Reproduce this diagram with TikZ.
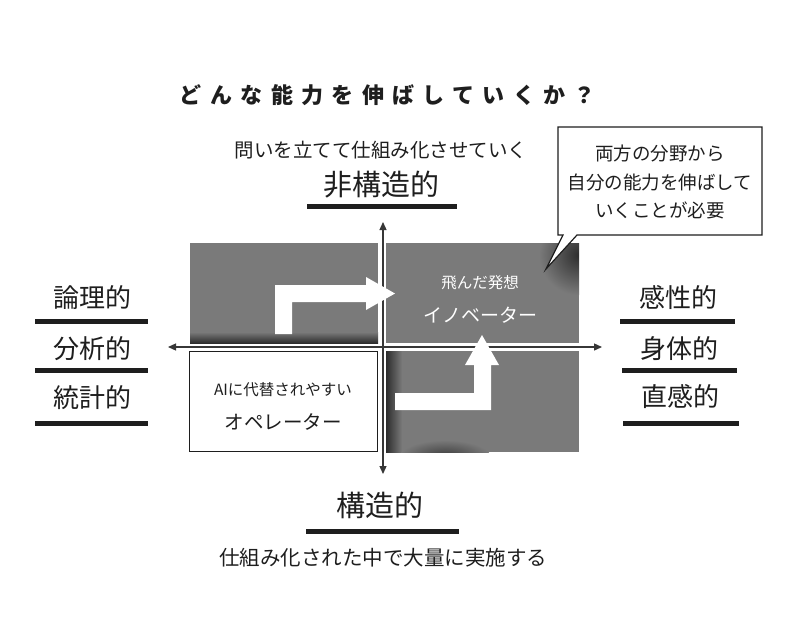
\documentclass[tikz,border=0pt]{standalone}
\usepackage{fontspec}
\setmainfont{Noto Sans CJK JP}
\usetikzlibrary{arrows.meta}
\definecolor{quad}{RGB}{122,122,122}
\definecolor{quaddark}{RGB}{45,45,45}
\definecolor{ink}{RGB}{30,30,30}
\definecolor{axiscol}{RGB}{55,55,55}
\tikzset{
  fs/.style={font=\fontsize{#1}{#1}\selectfont},
  lbl/.style={inner sep=0pt, text=ink},
  ubar/.style={line width=5pt, ink},
  axisline/.style={line width=1.3pt, axiscol, {Triangle[length=8pt,width=7pt]}-{Triangle[length=8pt,width=7pt]}},
  whitearrow/.style={fill=white},
}
\begin{document}
\begin{tikzpicture}[x=1pt,y=-1pt]
\useasboundingbox (0,0) rectangle (800,619);
\fill[white] (0,0) rectangle (800,619);

% title
\node[lbl, fs=22, anchor=center] (title) at (388,95) {\bfseries\addfontfeature{LetterSpace=38}どんな能力を伸ばしていくか？};

% top labels
\node[lbl, fs=19.5] (topnote) at (381,150) {問いを立てて仕組み化させていく};
\node[lbl, fs=29] (topaxis) at (381,185) {非構造的};
\draw[ubar] (307,206) -- (457,206);

% bottom labels
\node[lbl, fs=29] (botaxis) at (380,505) {構造的};
\draw[ubar] (306,531) -- (459,531);
\node[lbl, fs=20.5] (botnote) at (383,558) {仕組み化された中で大量に実施する};

% left labels
\node[lbl, fs=26] (l1) at (92,298) {論理的};
\draw[ubar] (35,321) -- (148,321);
\node[lbl, fs=26] (l2) at (92,349) {分析的};
\draw[ubar] (35,370) -- (148,370);
\node[lbl, fs=26] (l3) at (92,398) {統計的};
\draw[ubar] (35,423) -- (148,423);

% right labels
\node[lbl, fs=26] (r1) at (678,298) {感性的};
\draw[ubar] (620,321) -- (735,321);
\node[lbl, fs=26] (r2) at (679,349) {身体的};
\draw[ubar] (622,370) -- (737,370);
\node[lbl, fs=26] (r3) at (680,397) {直感的};
\draw[ubar] (623,423) -- (739,423);

% quadrants
\fill[quad] (190,243) rectangle (378,343);
\shade[top color=quad, bottom color=quaddark] (190,332) rectangle (378,343);
\fill[quad] (386,243) rectangle (579,343);
\begin{scope}
  \clip (386,243) rectangle (579,343);
  \shade[inner color=quaddark, outer color=quad] (579,255) circle (40);
\end{scope}
\fill[quad] (386,351) rectangle (579,452);
\shade[left color=quaddark, right color=quad] (386,351) rectangle (402,452);
\begin{scope}
  \clip (386,351) rectangle (579,452);
  \shade[inner color=quaddark!80!quad, outer color=quad] (445,456) ellipse (45 and 16);
\end{scope}
\draw[line width=1.5pt, ink] (189.5,351.5) rectangle (377.5,451.5);

% axes
\coordinate (axL) at (168,347);
\coordinate (axR) at (602,347);
\coordinate (axT) at (383,222);
\coordinate (axB) at (383,474);
\draw[axisline] (axL) -- (axR);
\draw[axisline] (axT) -- (axB);

% white arrows
\fill[whitearrow] (275,334) -- (275,285) -- (366,285) -- (366,277) -- (395,293.5)
  -- (366,310) -- (366,302) -- (292,302) -- (292,334) -- cycle;
\fill[whitearrow] (395,393) -- (474,393) -- (474,365) -- (465,365) -- (482,335)
  -- (499,365) -- (491,365) -- (491,410) -- (395,410) -- cycle;

% quadrant texts
\node[lbl, fs=15.5, text=white] (idea) at (480,283) {飛んだ発想};
\node[lbl, fs=19, text=white] (innov) at (480,315) {イノベーター};
\node[lbl, fs=15.5] (aieasy) at (283,390) {AIに代替されやすい};
\node[lbl, fs=19.5] (oper) at (283,422) {オペレーター};

% callout
\draw[line width=1.2pt, ink, fill=white] (558,127) -- (762,127) -- (762,235) -- (577,235)
  -- (546,269) -- (563,235) -- (558,235) -- cycle;
\node[lbl, fs=18.5] (c1) at (660,153) {両方の分野から};
\node[lbl, fs=18.5] (c2) at (660,182) {自分の能力を伸ばして};
\node[lbl, fs=18.5] (c3) at (660,210) {いくことが必要};
\end{tikzpicture}
\end{document}
